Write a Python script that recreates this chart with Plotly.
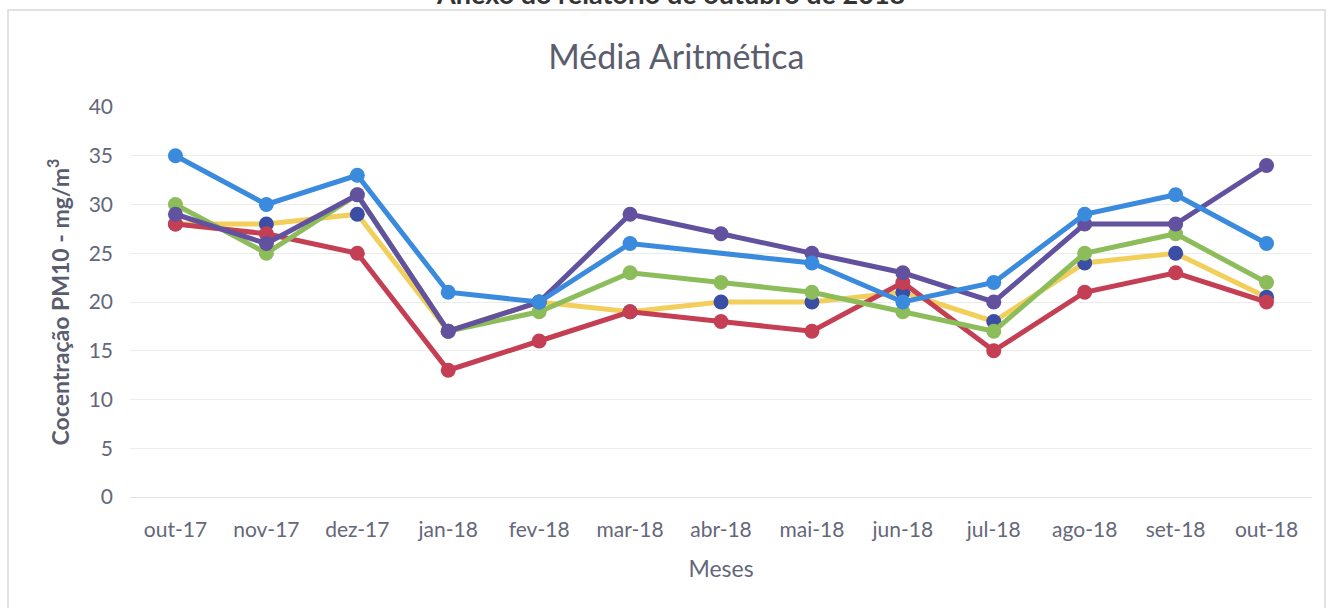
import plotly.graph_objects as go

months = ["out-17", "nov-17", "dez-17", "jan-18", "fev-18", "mar-18", "abr-18",
          "mai-18", "jun-18", "jul-18", "ago-18", "set-18", "out-18"]

serie_amarela = [28, 28, 29, 17, 20, 19, 20, 20, 21, 18, 24, 25, 20.5]
serie_vermelha = [28, 27, 25, 13, 16, 19, 18, 17, 22, 15, 21, 23, 20]
serie_verde = [30, 25, 31, 17, 19, 23, 22, 21, 19, 17, 25, 27, 22]
serie_roxa = [29, 26, 31, 17, 20, 29, 27, 25, 23, 20, 28, 28, 34]
serie_azul = [35, 30, 33, 21, 20, 26, None, 24, 20, 22, 29, 31, 26]

y_ticks = [0, 5, 10, 15, 20, 25, 30, 35, 40]

series = [
    (serie_amarela, "#f2cf5b", "#3b4ea6"),
    (serie_vermelha, "#c43f54", "#c43f54"),
    (serie_verde, "#8dbd5b", "#8dbd5b"),
    (serie_roxa, "#62519e", "#62519e"),
    (serie_azul, "#3a8ade", "#3a8ade"),
]

fig = go.Figure()
for vals, lc, mc in series:
    fig.add_trace(go.Scatter(
        x=months, y=vals, mode="lines+markers", connectgaps=True,
        line=dict(color=lc, width=5),
        marker=dict(color=mc, size=15),
        showlegend=False, hoverinfo="skip",
    ))

font_fam = "Lato, 'Open Sans', sans-serif"
txt = "#64677a"
fig.update_layout(
    width=1334, height=608,
    margin=dict(l=130, r=22, t=107, b=111),
    paper_bgcolor="white", plot_bgcolor="white",
    font=dict(family=font_fam, color=txt),
    title=dict(text="Média Aritmética", x=0.507, xanchor="center",
               y=0.906, yanchor="middle",
               font=dict(size=34, color="#5a5d6e", family=font_fam)),
    xaxis=dict(type="category", range=[-0.5, 12.5], showgrid=False,
               showline=False, ticks="", ticklabelstandoff=18,
               tickfont=dict(size=21, color=txt),
               title=dict(text="Meses", font=dict(size=23, color=txt), standoff=20)),
    yaxis=dict(range=[0, 40], tickvals=y_ticks, showgrid=True,
               gridcolor="#ececec", gridwidth=1, zeroline=True,
               zerolinecolor="#e3e3e3", zerolinewidth=1, ticks="",
               ticklabelstandoff=16,
               tickfont=dict(size=21, color=txt),
               title=dict(text="<b>Cocentração PM10 - mg/m<sup>3</sup></b>",
                          font=dict(size=23, color="#5a5d6e"), standoff=12)),
    shapes=[
        dict(type="rect", xref="paper", yref="paper",
             x0=-0.1032, x1=1.011, y0=-0.35, y1=1.2487,
             line=dict(color="#d9d9d9", width=1.5), fillcolor="rgba(0,0,0,0)"),
    ],
    annotations=[
        dict(text="<b>Anexo do relatório de outubro de 2018</b>", xref="paper", yref="paper",
             x=0.457, y=1.2436, xanchor="center", yanchor="bottom", showarrow=False,
             font=dict(size=27, color="#333333", family=font_fam)),
    ],
)

fig.write_html("out.html", config={"displayModeBar": False},
               post_script="document.body.style.margin='0';")
